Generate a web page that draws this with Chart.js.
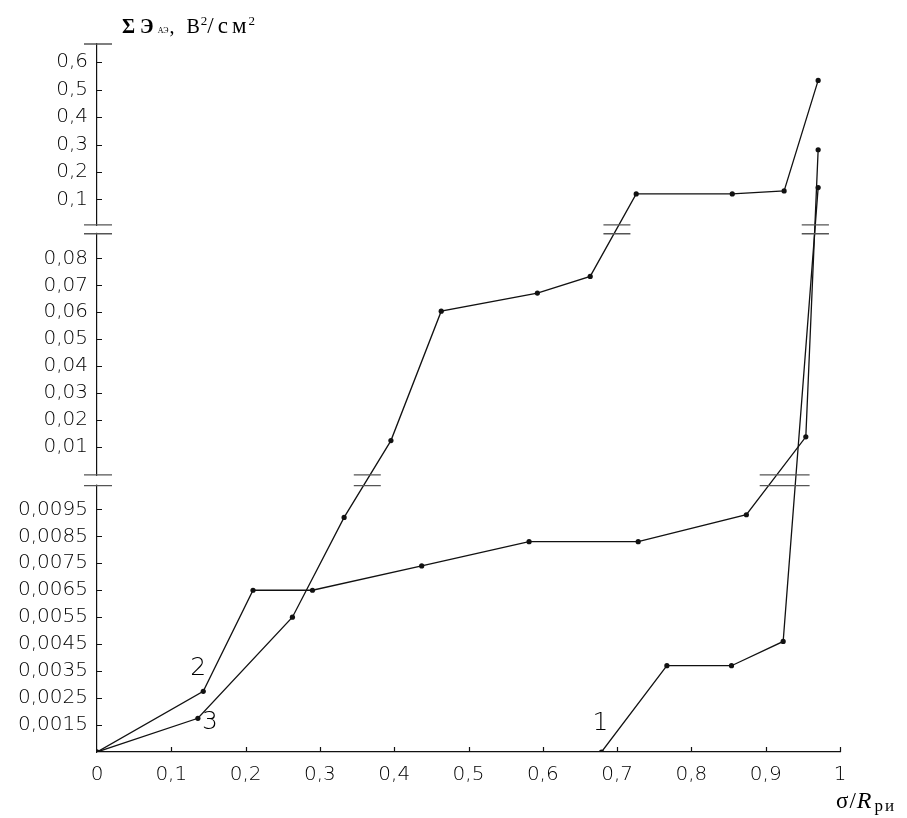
<!DOCTYPE html>
<html>
<head>
<meta charset="utf-8">
<script src="https://cdn.jsdelivr.net/npm/chart.js@4.4.1/dist/chart.umd.min.js"></script>
<style>
  html, body { margin: 0; padding: 0; background: #fff; }
</style>
</head>
<body>
<canvas id="chart" width="907" height="818"></canvas>
<script>
// tick labels of both axes
const xTicks = [0, 0.1, 0.2, 0.3, 0.4, 0.5, 0.6, 0.7, 0.8, 0.9, 1];
const yTicksLow = [0.0015, 0.0025, 0.0035, 0.0045, 0.0055, 0.0065, 0.0075, 0.0085, 0.0095];
const yTicksMid = [0.01, 0.02, 0.03, 0.04, 0.05, 0.06, 0.07, 0.08];
const yTicksTop = [0.1, 0.2, 0.3, 0.4, 0.5, 0.6];

// curve 1
const curve1X = [0.679, 0.767, 0.854, 0.9235, 0.9706];
const curve1Y = [0, 0.0037, 0.0037, 0.0046, 0.143];
// curve 2
const curve2X = [0, 0.143, 0.21, 0.29, 0.437, 0.5815, 0.7284, 0.874, 0.954, 0.9706];
const curve2Y = [0, 0.00275, 0.0065, 0.0065, 0.0074, 0.0083, 0.0083, 0.0093, 0.0138, 0.281];
// curve 3
const curve3X = [0, 0.1358, 0.263, 0.3326, 0.3956, 0.4633, 0.5927, 0.6638, 0.7257, 0.855, 0.9248, 0.9706];
const curve3Y = [0, 0.00175, 0.0055, 0.0092, 0.0124, 0.0604, 0.0671, 0.0733, 0.120, 0.120, 0.131, 0.534];

const curveNames = ['1', '2', '3'];

// the value axis is broken in three pieces; y is plotted in "tick steps"
const MID_START = 10.31;   // where 0 of the middle piece sits
const TOP_START = 19.48;   // where 0 of the top piece sits
const TOP_STEP = 1.017;    // steps per 0.1 in the top piece
const Y_MAX = 26.26;
const gaps = [[9.88, 10.28], [19.22, 19.55]];

function toAxis(v) {
  if (v <= 0.0015) return v / 0.0015;
  if (v < 0.01) return 1 + (v - 0.0015) / 0.001;
  if (v < 0.09) return MID_START + v / 0.01;
  return TOP_START + v / 0.1 * TOP_STEP;
}

const yTickValues = [...yTicksLow, ...yTicksMid, ...yTicksTop];
const comma = v => String(v).replace('.', ',');

const tickFont = { family: '"DejaVu Sans"', size: 20, weight: 200 };
const ink = '#111';

function makeSet(xs, ys) {
  return {
    data: xs.map((x, i) => ({ x: x, y: toAxis(ys[i]) })),
    borderColor: ink,
    borderWidth: 1.3,
    backgroundColor: ink,
    pointRadius: 2.6,
    pointBorderWidth: 0,
    pointBackgroundColor: ink,
    tension: 0,
    fill: false
  };
}

// where to put the curve numbers, relative to one of its points
const nameSpots = [
  { point: 0, dx: -1, dy: -29 },
  { point: 1, dx: -5, dy: -23 },
  { point: 1, dx: 12, dy: 4 }
];

// write a run of text pieces with their own font, offset and letter spacing
function writeRun(ctx, x, base, pieces) {
  pieces.forEach(p => {
    ctx.font = p.font;
    ctx.letterSpacing = (p.spacing || 0) + 'px';
    x += p.gap || 0;
    ctx.fillText(p.text, x, base + (p.dy || 0));
    x += ctx.measureText(p.text).width;
  });
  ctx.letterSpacing = '0px';
}

const decor = {
  id: 'decor',
  afterDraw(chart) {
    const ctx = chart.ctx;
    const xs = chart.scales.x, ys = chart.scales.y;
    const area = chart.chartArea;
    const ax = xs.getPixelForValue(0);
    ctx.save();

    // inward tick marks
    ctx.strokeStyle = ink;
    ctx.lineWidth = 1.2;
    ctx.beginPath();
    xTicks.slice(1).forEach(v => {
      const px = Math.round(xs.getPixelForValue(v)) + 0.5;
      ctx.moveTo(px, area.bottom);
      ctx.lineTo(px, area.bottom - 5);
    });
    yTickValues.forEach(v => {
      const py = Math.round(ys.getPixelForValue(toAxis(v))) + 0.5;
      ctx.moveTo(ax, py);
      ctx.lineTo(ax + 5, py);
    });
    ctx.stroke();

    // cut the axis at the breaks and mark them
    ctx.fillStyle = '#fff';
    gaps.forEach(g => {
      const y1 = ys.getPixelForValue(g[1]), y0 = ys.getPixelForValue(g[0]);
      ctx.fillRect(ax - 3, y1 + 1, 6, y0 - y1 - 2);
    });
    ctx.strokeStyle = '#555';
    ctx.lineWidth = 1.4;
    ctx.beginPath();
    const edges = [...gaps.flat(), Y_MAX];
    edges.forEach(u => {
      const py = ys.getPixelForValue(u);
      ctx.moveTo(ax - 13, py);
      ctx.lineTo(ax + 15, py);
    });

    // break marks where curves pass through a gap
    gaps.forEach(g => {
      const mid = (g[0] + g[1]) / 2;
      const hits = [];
      chart.data.datasets.forEach(ds => {
        for (let i = 1; i < ds.data.length; i++) {
          const a = ds.data[i - 1], b = ds.data[i];
          if (a.y < mid && b.y > mid) {
            const t = (mid - a.y) / (b.y - a.y);
            hits.push(xs.getPixelForValue(a.x + t * (b.x - a.x)));
          }
        }
      });
      hits.sort((p, q) => p - q);
      const groups = [];
      hits.forEach(h => {
        const last = groups[groups.length - 1];
        if (last && h - last[1] < 30) last[1] = h; else groups.push([h, h]);
      });
      groups.forEach(gr => {
        [g[0], g[1]].forEach(u => {
          const py = ys.getPixelForValue(u);
          ctx.moveTo(gr[0] - 13, py);
          ctx.lineTo(gr[1] + 14, py);
        });
      });
    });
    ctx.stroke();

    // curve numbers
    ctx.fillStyle = '#000';
    ctx.font = '200 25px "DejaVu Sans"';
    ctx.textAlign = 'center';
    ctx.textBaseline = 'middle';
    nameSpots.forEach((s, i) => {
      const el = chart.getDatasetMeta(i).data[s.point];
      ctx.fillText(curveNames[i], el.x + s.dx, el.y + s.dy);
    });

    // axis titles
    ctx.textAlign = 'left';
    ctx.textBaseline = 'alphabetic';
    const serif = '"Liberation Serif"';
    writeRun(ctx, 122, 33, [
      { text: 'Σ', font: 'bold 20px ' + serif },
      { text: 'Э', font: 'bold 20px ' + serif, gap: 5 },
      { text: 'АЭ', font: '8px ' + serif, gap: 4 },
      { text: ',', font: '20px ' + serif, gap: 1 },
      { text: 'В', font: '20px ' + serif, gap: 12 },
      { text: '2', font: '13px ' + serif, dy: -8, gap: 1 },
      { text: '/см', font: '23px ' + serif, spacing: 4 },
      { text: '2', font: '13px ' + serif, dy: -8, gap: -2 }
    ]);
    writeRun(ctx, 836, 808, [
      { text: 'σ/', font: '23px ' + serif, spacing: 1 },
      { text: 'R', font: 'italic 24px ' + serif, spacing: 3 },
      { text: 'ри', font: '17px ' + serif, dy: 3, spacing: 2 }
    ]);

    ctx.restore();
  }
};

new Chart(document.getElementById('chart'), {
  type: 'line',
  data: {
    datasets: [
      makeSet(curve1X, curve1Y),
      makeSet(curve2X, curve2Y),
      makeSet(curve3X, curve3Y)
    ]
  },
  options: {
    responsive: false,
    animation: false,
    events: [],
    layout: { padding: { top: 44, right: 67, bottom: 0, left: 0 } },
    plugins: { legend: { display: false }, tooltip: { enabled: false } },
    scales: {
      x: {
        type: 'linear',
        min: 0,
        max: 1,
        afterBuildTicks: s => { s.ticks = xTicks.map(v => ({ value: v })); },
        afterFit: s => { s.height = 66; },
        grid: { display: false, drawTicks: false },
        border: { display: true, color: ink, width: 1.2 },
        ticks: {
          color: '#000',
          font: tickFont,
          padding: 11,
          maxRotation: 0,
          autoSkip: false,
          callback: v => comma(v)
        }
      },
      y: {
        type: 'linear',
        min: 0,
        max: Y_MAX,
        afterBuildTicks: s => { s.ticks = yTickValues.map(v => ({ value: toAxis(v) })); },
        afterFit: s => { s.width = 97; },
        grid: { display: false, drawTicks: false },
        border: { display: true, color: ink, width: 1.2 },
        ticks: {
          color: '#000',
          font: tickFont,
          padding: 9,
          autoSkip: false,
          callback: (v, i) => comma(yTickValues[i])
        }
      }
    }
  },
  plugins: [decor]
});
</script>
</body>
</html>
